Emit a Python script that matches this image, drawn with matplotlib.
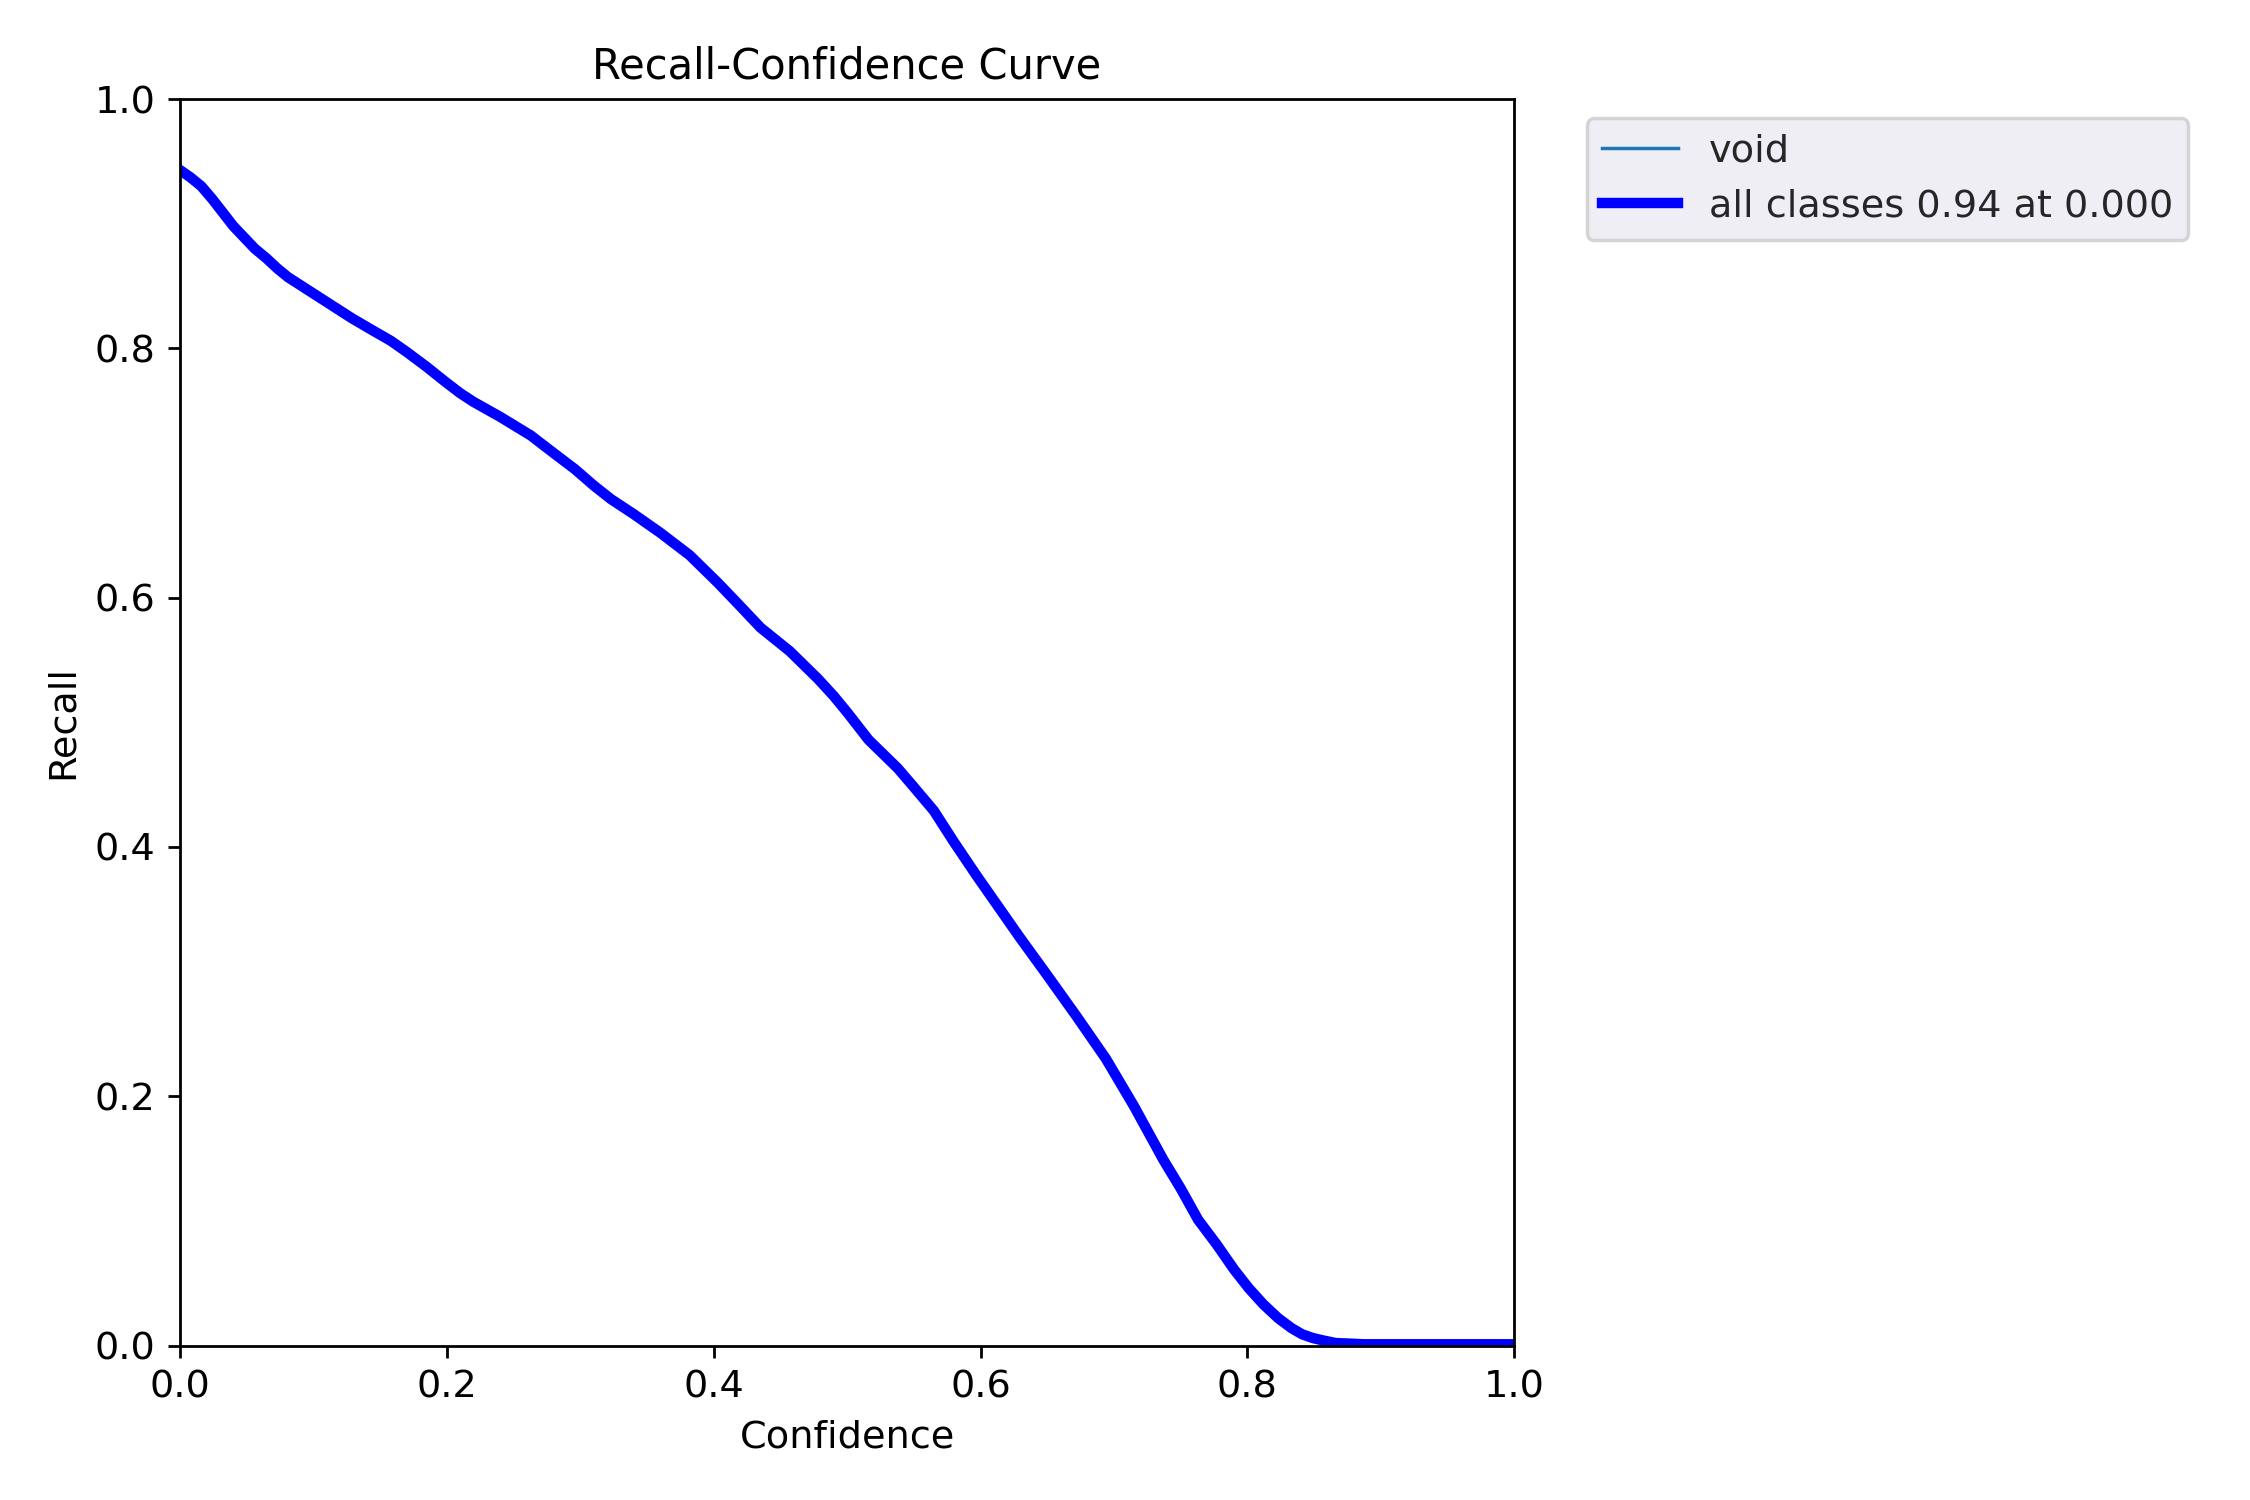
import numpy as np
import matplotlib
matplotlib.use('Agg')
import matplotlib.pyplot as plt

plt.rcParams['font.size'] = 11

# Recall-Confidence curve
confidence = [0.000, 0.008, 0.016, 0.024, 0.032, 0.040, 0.048, 0.056, 0.065, 0.073,
              0.081, 0.097, 0.113, 0.129, 0.145, 0.158, 0.170, 0.185, 0.199, 0.210,
              0.220, 0.240, 0.263, 0.280, 0.296, 0.310, 0.323, 0.340, 0.360, 0.382,
              0.403, 0.420, 0.435, 0.457, 0.478, 0.490, 0.500, 0.516, 0.538, 0.550,
              0.565, 0.580, 0.597, 0.629, 0.650, 0.672, 0.694, 0.715, 0.737, 0.750,
              0.763, 0.777, 0.790, 0.801, 0.812, 0.823, 0.833, 0.841, 0.849, 0.857,
              0.866, 0.877, 0.887, 0.900, 0.920, 1.000]
recall = [0.943, 0.937, 0.930, 0.920, 0.909, 0.898, 0.889, 0.880, 0.872, 0.864,
          0.857, 0.846, 0.835, 0.824, 0.814, 0.806, 0.797, 0.785, 0.773, 0.764,
          0.757, 0.745, 0.730, 0.716, 0.703, 0.690, 0.679, 0.667, 0.652, 0.634,
          0.612, 0.593, 0.576, 0.557, 0.535, 0.521, 0.508, 0.486, 0.463, 0.448,
          0.429, 0.404, 0.377, 0.328, 0.297, 0.264, 0.230, 0.192, 0.149, 0.126,
          0.101, 0.081, 0.061, 0.046, 0.033, 0.022, 0.014, 0.009, 0.006, 0.004,
          0.002, 0.0015, 0.001, 0.001, 0.001, 0.001]
class_name = 'void'
best_recall = 0.94
best_conf = 0.000

fig, ax = plt.subplots(1, 1, figsize=(9, 6))
fig.subplots_adjust(left=0.08, right=0.673, top=0.934, bottom=0.103)

ax.plot(confidence, recall, linewidth=1, label=class_name)
ax.plot(confidence, recall, linewidth=3, color='blue',
        label=f'all classes {best_recall:.2f} at {best_conf:.3f}')

ax.set_xlabel('Confidence')
ax.set_ylabel('Recall')
ax.set_xlim(0, 1)
ax.set_ylim(0, 1)
ax.set_title('Recall-Confidence Curve', fontsize=12)

leg = ax.legend(bbox_to_anchor=(1.04, 1), loc='upper left',
                facecolor='#EAEAF2', edgecolor='0.8', framealpha=0.8)
for t in leg.get_texts():
    t.set_color('.15')

fig.savefig('out.png', dpi=250)
